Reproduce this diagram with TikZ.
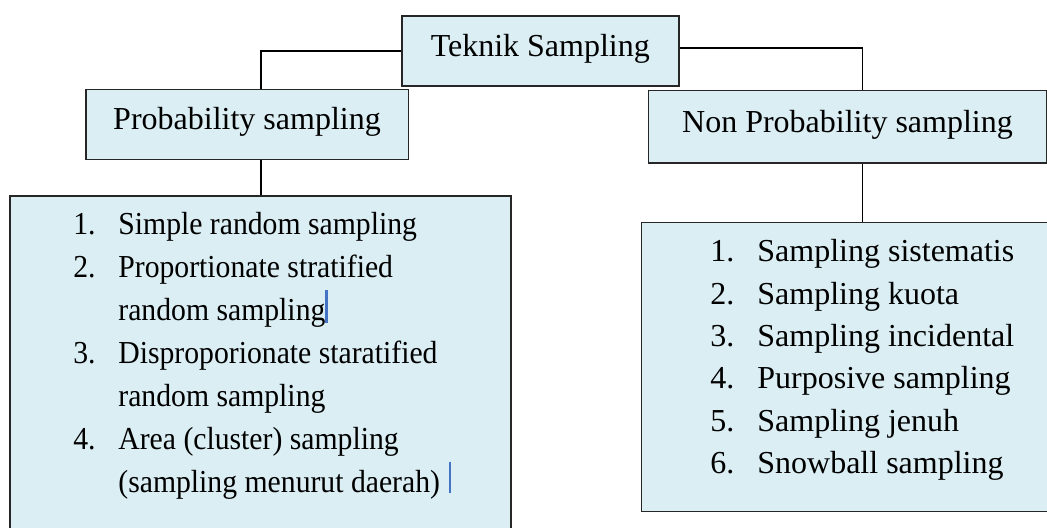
\documentclass[tikz,border=0pt]{standalone}
\usepackage{fontspec}
\setmainfont{Liberation Serif}
\usepackage{xcolor,array}
\usepackage{tikz}
\definecolor{boxfill}{RGB}{218,238,243}
\definecolor{cursor}{RGB}{68,114,196}

\begin{document}
\begin{tikzpicture}[x=0.5pt,y=-0.5pt,
    box/.style={draw=black!85,line width=0.8pt,fill=boxfill,inner sep=0pt},
    head/.style={box,font=\fontsize{16}{19}\selectfont,text height=10.5pt,text depth=5pt},
    items/.style={font=\fontsize{16}{21.5}\selectfont,inner sep=0pt,anchor=base west},
    link/.style={line width=0.6pt}]
    \useasboundingbox (0,0) rectangle (1047,527);
    \clip (0,0) rectangle (1047,527);
    \node[head,minimum width=138.6pt,minimum height=35pt] (t) at (540.3,51) {Teknik Sampling};
    \node[head,minimum width=161.3pt,minimum height=34.9pt] (p) at (247,124.4) {Probability sampling};
    \node[head,minimum width=199.2pt,minimum height=36.2pt] (n) at (847.5,126.5) {Non Probability sampling};
    \node[box,minimum width=250.5pt,minimum height=170pt,anchor=north west] (l) at (9,195) {};
    \node[box,minimum width=205.6pt,minimum height=144.5pt,anchor=north west] (r) at (640.7,221.7) {};
    \node[items] (a) at (73,234.3) {\scalebox{0.928}[1]{\begin{tabular}[t]{@{}p{24.25pt}@{}l@{}}
      1. & Simple random sampling\\
      2. & Proportionate stratified\\
         & random sampling\\
      3. & Disproporionate staratified\\
         & random sampling\\
      4. & Area (cluster) sampling\\
         & (sampling menurut daerah)
    \end{tabular}}};
    \node[items,font=\fontsize{16}{21.2}\selectfont] (b) at (710,261.7) {\begin{tabular}[t]{@{}p{23.5pt}@{}l@{}}
      1. & Sampling sistematis\\
      2. & Sampling kuota\\
      3. & Sampling incidental\\
      4. & Purposive sampling\\
      5. & Sampling jenuh\\
      6. & Snowball sampling
    \end{tabular}};
    \draw[link] (t.west) -| ([xshift=7pt]p.north);
    \draw[link] ([yshift=1.5pt]t.east) -| ([xshift=7.6pt]n.north);
    \draw[link] ([xshift=7pt]p.south) -- ([xshift=7pt]p.south |- l.north);
    \draw[link] ([xshift=7.6pt]n.south) -- ([xshift=7.6pt]n.south |- r.north);
    \draw[cursor,line width=1.3pt] (326.7,290) -- (326.7,322.7);
    \draw[cursor,line width=1.3pt] (450,461.7) -- (450,493.3);
\end{tikzpicture}
\end{document}
